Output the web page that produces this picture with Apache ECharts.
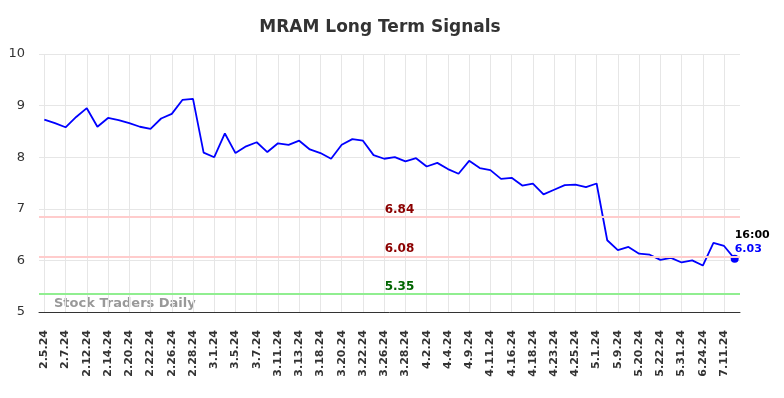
<!DOCTYPE html>
<html>
<head>
<meta charset="utf-8">
<script src="https://cdn.jsdelivr.net/npm/echarts@6/dist/echarts.min.js"></script>
<style>
    html, body { margin: 0; padding: 0; background: #fff; }
    #chart { width: 784px; height: 398px; }
</style>
</head>
<body>
<div id="chart"></div>
<script>
/* MRAM long term signals */

var dates = [
    '2.5.24', '2.6.24', '2.7.24', '2.8.24', '2.12.24', '2.13.24', '2.14.24', '2.16.24',
    '2.20.24', '2.21.24', '2.22.24', '2.23.24', '2.26.24', '2.27.24', '2.28.24', '2.29.24',
    '3.1.24', '3.4.24', '3.5.24', '3.6.24', '3.7.24', '3.8.24', '3.11.24', '3.12.24',
    '3.13.24', '3.15.24', '3.18.24', '3.19.24', '3.20.24', '3.21.24', '3.22.24', '3.25.24',
    '3.26.24', '3.27.24', '3.28.24', '4.1.24', '4.2.24', '4.3.24', '4.4.24', '4.8.24',
    '4.9.24', '4.10.24', '4.11.24', '4.15.24', '4.16.24', '4.17.24', '4.18.24', '4.22.24',
    '4.23.24', '4.24.24', '4.25.24', '4.30.24', '5.1.24', '5.8.24', '5.9.24', '5.17.24',
    '5.20.24', '5.21.24', '5.22.24', '5.30.24', '5.31.24', '6.21.24', '6.24.24', '7.10.24',
    '7.11.24', '7.12.24'
];

var prices = [
    8.73, 8.66, 8.58, 8.78, 8.95, 8.59, 8.76, 8.72,
    8.66, 8.59, 8.55, 8.75, 8.84, 9.11, 9.13, 8.09,
    8.00, 8.46, 8.08, 8.21, 8.29, 8.10, 8.27, 8.24,
    8.32, 8.15, 8.08, 7.97, 8.24, 8.35, 8.32, 8.04,
    7.97, 8.00, 7.92, 7.98, 7.82, 7.89, 7.77, 7.68,
    7.93, 7.79, 7.75, 7.58, 7.60, 7.45, 7.49, 7.28,
    7.37, 7.46, 7.47, 7.42, 7.49, 6.39, 6.20, 6.26,
    6.13, 6.11, 6.01, 6.05, 5.96, 6.00, 5.90, 6.34,
    6.28, 6.03
];

var signals = [
    { value: 6.84, line: '#ffcccc', text: '#8b0000' },
    { value: 6.08, line: '#ffcccc', text: '#8b0000' },
    { value: 5.35, line: '#90ee90', text: '#006400' }
];

var lastTime = '16:00';

var chart = echarts.init(document.getElementById('chart'));

var lastIdx = prices.length - 1;

var option = {
    animation: false,
    title: {
        text: 'MRAM Long Term Signals',
        left: 375,
        textAlign: 'center',
        top: 14,
        textStyle: {
            fontFamily: 'DejaVu Sans',
            fontSize: 17,
            fontWeight: 'bold',
            color: '#333'
        }
    },
    grid: {
        left: 39,
        right: 44,
        top: 54,
        bottom: 86
    },
    xAxis: {
        type: 'category',
        data: dates,
        boundaryGap: true,
        axisLine: { lineStyle: { color: '#333', width: 1 } },
        axisTick: { show: false },
        axisLabel: {
            interval: 1,
            rotate: 90,
            margin: 18,
            fontFamily: 'DejaVu Sans',
            fontSize: 11,
            fontWeight: 'bold',
            color: '#333'
        },
        splitLine: {
            show: true,
            interval: 1,
            alignWithLabel: true,
            lineStyle: { color: '#e6e6e6', width: 1 }
        }
    },
    yAxis: {
        type: 'value',
        min: 5,
        max: 10,
        interval: 1,
        axisLine: { show: false },
        axisTick: { show: false },
        axisLabel: {
            margin: 14,
            fontFamily: 'DejaVu Sans',
            fontSize: 13,
            color: '#333'
        },
        splitLine: { lineStyle: { color: '#e6e6e6', width: 1 } }
    },
    graphic: [{
        type: 'text',
        left: 54,
        top: 297,
        style: {
            text: 'Stock Traders Daily',
            fontFamily: 'DejaVu Sans',
            fontSize: 13,
            fontWeight: 'bold',
            fill: '#999'
        }
    }],
    series: [{
        type: 'line',
        data: prices,
        showSymbol: false,
        lineStyle: { color: '#0000ff', width: 1.8 },
        itemStyle: { color: '#0000ff' },
        markLine: {
            silent: true,
            symbol: 'none',
            data: signals.map(function (s) {
                return {
                    yAxis: s.value,
                    lineStyle: { color: s.line, type: 'solid', width: 2 },
                    label: {
                        show: true,
                        position: 'middle',
                        offset: [10, 4],
                        formatter: s.value.toFixed(2),
                        fontFamily: 'DejaVu Sans',
                        fontSize: 12,
                        fontWeight: 'bold',
                        color: s.text
                    }
                };
            })
        }
    }, {
        type: 'scatter',
        data: [[lastIdx, prices[lastIdx]]],
        symbolSize: 8,
        itemStyle: { color: '#0000ff', opacity: 1 },
        label: {
            show: true,
            position: [4, 1],
            align: 'left',
            verticalAlign: 'bottom',
            formatter: function (p) {
                return '{t|' + lastTime + '}\n{v|' + p.value[1].toFixed(2) + '}';
            },
            rich: {
                t: { fontFamily: 'DejaVu Sans', fontSize: 11, fontWeight: 'bold', color: '#000', lineHeight: 14 },
                v: { fontFamily: 'DejaVu Sans', fontSize: 11, fontWeight: 'bold', color: '#0000ff', lineHeight: 14 }
            }
        }
    }]
};

chart.setOption(option);
</script>
</body>
</html>
